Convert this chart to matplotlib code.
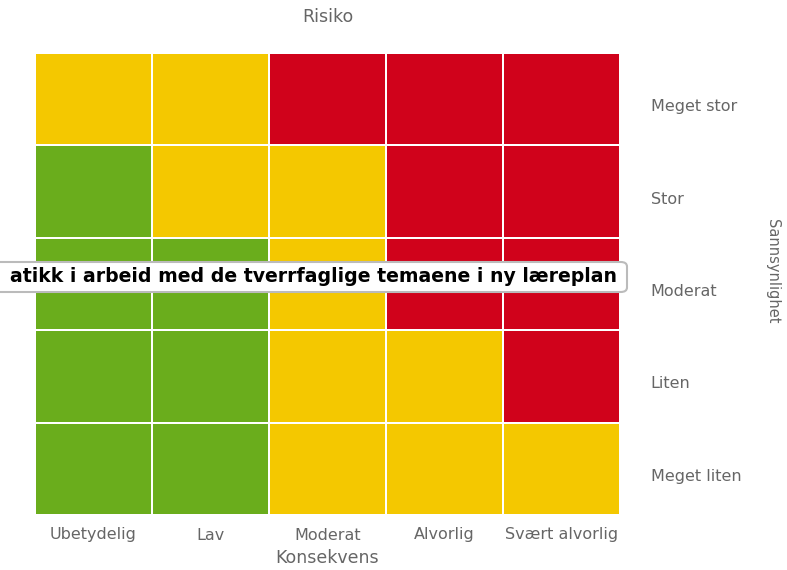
import numpy as np
import matplotlib.pyplot as plt
from matplotlib.colors import ListedColormap
from matplotlib.patches import FancyBboxPatch
from matplotlib.transforms import ScaledTranslation

# Risk matrix data
konsekvens = ['Ubetydelig', 'Lav', 'Moderat', 'Alvorlig', 'Svært alvorlig']
sannsynlighet = ['Meget liten', 'Liten', 'Moderat', 'Stor', 'Meget stor']
# 0 = lav (grønn), 1 = middels (gul), 2 = høy (rød); rows from Meget liten to Meget stor
risk = [
    [0, 0, 1, 1, 1],
    [0, 0, 1, 1, 2],
    [0, 0, 1, 2, 2],
    [0, 1, 1, 2, 2],
    [1, 1, 2, 2, 2],
]
tooltip = 'atikk i arbeid med de tverrfaglige temaene i ny læreplan'

cmap = ListedColormap(['#6aad1c', '#f4c800', '#d0021b'])
txt = '#666666'

fig = plt.figure(figsize=(7.87, 5.70), dpi=100)
ax = fig.add_axes([35 / 787, 1 - 515 / 570, 585 / 787, 462 / 570])

ax.pcolormesh(np.array(risk), cmap=cmap, vmin=0, vmax=2,
              edgecolors='white', linewidth=1.2)
ax.set_xlim(0, 5)
ax.set_ylim(0, 5)

ax.set_xticks(np.arange(5) + 0.5)
ax.set_xticklabels(konsekvens, fontsize=11.5, color=txt)
ax.set_yticks(np.arange(5) + 0.5)
ax.set_yticklabels(sannsynlighet, fontsize=11.5, color=txt)
ax.yaxis.tick_right()
ax.tick_params(length=0)
ax.tick_params(axis='x', pad=9)
ax.tick_params(axis='y', pad=22)
# y labels sit a little below the row centres
shift = ScaledTranslation(0, -6 / 100, fig.dpi_scale_trans)
for lab in ax.get_yticklabels():
    lab.set_transform(lab.get_transform() + shift)
for s in ax.spines.values():
    s.set_visible(False)

ax.set_xlabel('Konsekvens', fontsize=12.5, color=txt, labelpad=5)
fig.text(773 / 787, 1 - 271 / 570, 'Sannsynlighet', rotation=-90,
         fontsize=10.5, color=txt, ha='center', va='center')
fig.text(328 / 787, 1 - 17 / 570, 'Risiko', fontsize=12.5, color=txt,
         ha='center', va='center')

# tooltip box, cut off at the left edge
box = FancyBboxPatch((-20 / 787, 1 - 292 / 570), 647 / 787, 30 / 570,
                     boxstyle='round,pad=0,rounding_size=0.008',
                     transform=fig.transFigure, facecolor='white',
                     edgecolor='#bbbbbb', linewidth=1.5, zorder=5)
fig.add_artist(box)
fig.text(617 / 787, 1 - 276 / 570, tooltip, fontsize=13.6, fontweight='bold',
         color='black', ha='right', va='center', zorder=6)

fig.savefig('out.png', dpi=100)
